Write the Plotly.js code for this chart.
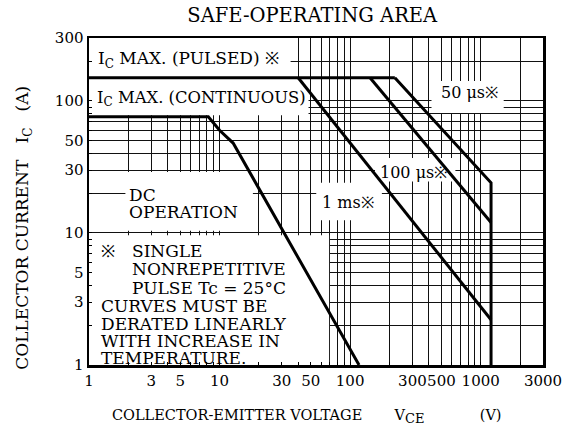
<!DOCTYPE html>
<html><head><meta charset="utf-8">
<script src="https://cdn.plot.ly/plotly-3.0.1.min.js"></script>
<style>html,body{margin:0;padding:0;background:#fff}#chart{width:573px;height:432px}</style>
</head><body><div id="chart"></div>
<script>
// ---- data ----
const pulsedV = [1, 220];
const pulsedI = [150, 150];
const dcV = [1, 8.2, 10, 12.7, 117];
const dcI = [76, 76, 60, 48, 1];
const ms1V = [40, 1200];
const ms1I = [150, 2.2];
const us100V = [142, 1200];
const us100I = [150, 12];
const us50V = [220, 1200, 1200];
const us50I = [150, 24, 1];

// ---- axes ----
const xTickVals = [1, 3, 5, 10, 30, 50, 100, 300, 500, 1000, 3000];
const xTickText = ['1', '3', '5', '10', '30', '50', '100', '300', '500', '1000', '3000'];
const xMinorVals = [2, 4, 6, 7, 8, 9, 20, 40, 60, 70, 80, 90, 200, 400, 600, 700, 800, 900, 2000];
const yTickVals = [1, 3, 5, 10, 30, 50, 100, 300];
const yTickText = ['1', '3', '5', '10', '30', '50', '100', '300'];
const yMinorVals = [2, 4, 6, 7, 8, 9, 20, 40, 60, 70, 80, 90, 200];

// ---- texts ----
const SUB = (s, px) => '<sub><span style="font-size:' + px + 'px">' + s + '</span></sub>';
const NB = n => '\u00A0'.repeat(n);
const chartTitle = 'SAFE-OPERATING AREA';
const xTitle = 'COLLECTOR-EMITTER VOLTAGE' + NB(7) + 'V' + SUB('CE', 13) + NB(12) + '(V)';
const yTitle = 'COLLECTOR CURRENT' + NB(3) + 'I' + SUB('C', 12) + NB(3) + '(A)';
const noteLines = ['SINGLE', 'NONREPETITIVE', 'PULSE Tc = 25°C', 'CURVES MUST BE', 'DERATED LINEARLY', 'WITH INCREASE IN', 'TEMPERATURE.'];
const noteX = [2.07, 2.07, 2.07, 1.2, 1.2, 1.2, 1.2];
const noteY = [7.3, 5.34, 3.83, 2.8, 2.045, 1.52, 1.13];

const FONT = 'DejaVu Serif, serif';
const lineStyle = {color: '#000', width: 3};

const traces = [
  {x: pulsedV, y: pulsedI, name: 'IC max pulsed', mode: 'lines', line: lineStyle},
  {x: dcV, y: dcI, name: 'DC operation', mode: 'lines', line: lineStyle},
  {x: ms1V, y: ms1I, name: '1 ms', mode: 'lines', line: lineStyle},
  {x: us100V, y: us100I, name: '100 us', mode: 'lines', line: lineStyle},
  {x: us50V, y: us50I, name: '50 us', mode: 'lines', line: lineStyle}
];

// white label areas that hide the grid (drawn between grid and curves)
function mask(x0, x1, y0, y1) {
  return {type: 'rect', xref: 'x', yref: 'y', x0: x0, x1: x1, y0: y0, y1: y1,
          fillcolor: '#fff', line: {width: 0}, layer: 'between'};
}
const shapes = [
  mask(1, 35, 152, 300),
  mask(1, 48, 78, 148),
  mask(1.9, 18, 10.4, 29),
  mask(55, 175, 12.5, 24),
  mask(155, 640, 24.5, 37),
  mask(420, 1500, 81, 142),
  mask(1, 69, 1, 9.6)
];

const L = Math.log10;
const ann = [];
function txt(text, x, y, xanchor, size) {
  ann.push({text: text, x: L(x), y: L(y), xref: 'x', yref: 'y', xanchor: xanchor, yanchor: 'middle',
            showarrow: false, font: {family: FONT, size: size, color: '#000'}});
}
txt('I' + SUB('C', 12) + ' MAX. (PULSED) ※', 1.13, 208, 'left', 17);
txt('I' + SUB('C', 12) + ' MAX. (CONTINUOUS)', 1.12, 105, 'left', 16.4);
txt('DC', 1.95, 19.4, 'left', 17);
txt('OPERATION', 1.95, 14.4, 'left', 17);
txt('1 ms※', 96, 17.0, 'center', 16);
txt('100 μs※', 308, 28.7, 'center', 16);
txt('50 μs※', 826, 115, 'center', 16);
txt('※', 1.2, 7.3, 'left', 17);
noteLines.forEach((t, i) => txt(t, noteX[i], noteY[i], 'left', 17));

ann.push({text: xTitle, xref: 'paper', yref: 'paper', x: 0.046, y: -0.159, xanchor: 'left', yanchor: 'middle',
          showarrow: false, font: {family: FONT, size: 14.5, color: '#000'}});
ann.push({text: yTitle, xref: 'paper', yref: 'paper', x: -0.143, y: 0.42, xanchor: 'center', yanchor: 'middle',
          textangle: -90, showarrow: false, font: {family: FONT, size: 17, color: '#000'}});

function axis(range, vals, text, minorVals) {
  return {
    type: 'log', range: range,
    tickmode: 'array', tickvals: vals, ticktext: text, tickangle: 0,
    showgrid: true, gridcolor: '#111', gridwidth: 1,
    minor: {tickmode: 'array', tickvals: minorVals, showgrid: true, gridcolor: '#111', gridwidth: 1,
            ticks: 'inside', ticklen: 3, tickcolor: '#000'},
    showline: true, linecolor: '#000', linewidth: 2.5, mirror: true,
    ticks: 'inside', ticklen: 3, tickcolor: '#000', zeroline: false,
    tickfont: {family: FONT, size: 15, color: '#000'}
  };
}

const layout = {
  width: 573, height: 432,
  margin: {l: 89, r: 30, t: 38, b: 67},
  paper_bgcolor: '#fff', plot_bgcolor: '#fff',
  showlegend: false,
  title: {text: chartTitle, x: 0.545, xanchor: 'center', y: 0.965, yanchor: 'middle',
          font: {family: FONT, size: 19.5, color: '#000'}},
  xaxis: axis([0, L(3000)], xTickVals, xTickText, xMinorVals),
  yaxis: axis([0, L(300)], yTickVals, yTickText, yMinorVals),
  shapes: shapes,
  annotations: ann
};

Plotly.newPlot('chart', traces, layout, {displayModeBar: false, staticPlot: true});
</script>
</body></html>
